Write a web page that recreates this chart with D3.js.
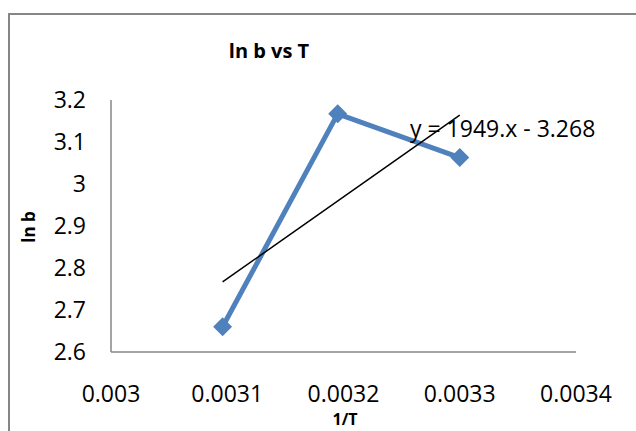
<!DOCTYPE html>
<html>
<head>
<meta charset="utf-8">
<script src="https://cdn.jsdelivr.net/npm/d3@7"></script>
<style>
  body { margin: 0; background: #fff; }
  text { font-family: "Open Sans", sans-serif; fill: #000; }
</style>
</head>
<body>
<svg id="chart" width="636" height="431"></svg>
<script>
// data
const invT = [0.003096, 0.003195, 0.0033];
const lnB = [2.66, 3.167, 3.063];
const xTicks = [0.003, 0.0031, 0.0032, 0.0033, 0.0034];
const yTicks = [2.6, 2.7, 2.8, 2.9, 3, 3.1, 3.2];
const titleText = "ln b vs T";
const equationText = "y = 1949.x - 3.268";

const svg = d3.select("#chart");

// chart area border (cropped on right / bottom)
svg.append("rect")
    .attr("x", 9).attr("y", 14)
    .attr("width", 700).attr("height", 500)
    .attr("fill", "none")
    .attr("stroke", "#868686")
    .attr("stroke-width", 2);

const x = d3.scaleLinear().domain([0.003, 0.0034]).range([111, 576]);
const y = d3.scaleLinear().domain([2.6, 3.2]).range([352, 100]);

// axes
svg.append("line")
    .attr("x1", x(0.003)).attr("x2", x(0.0034))
    .attr("y1", y(2.6)).attr("y2", y(2.6))
    .attr("stroke", "#868686").attr("stroke-width", 1.5);
svg.append("line")
    .attr("x1", x(0.003)).attr("x2", x(0.003))
    .attr("y1", y(2.6)).attr("y2", y(3.2))
    .attr("stroke", "#868686").attr("stroke-width", 1.5);

svg.selectAll("text.xtick")
    .data(xTicks)
    .enter().append("text")
        .attr("class", "xtick")
        .attr("x", function(d) { return x(d); })
        .attr("y", 402)
        .attr("text-anchor", "middle")
        .style("font-size", "23px")
        .text(function(d) { return String(+d.toFixed(4)); });

svg.selectAll("text.ytick")
    .data(yTicks)
    .enter().append("text")
        .attr("class", "ytick")
        .attr("x", 86)
        .attr("y", function(d) { return y(d); })
        .attr("dy", "0.35em")
        .attr("text-anchor", "end")
        .style("font-size", "23px")
        .text(function(d) { return String(+d.toFixed(1)); });

// title and axis titles
svg.append("text")
    .attr("x", 269).attr("y", 58)
    .attr("text-anchor", "middle")
    .style("font-size", "20px").style("font-weight", "bold")
    .text(titleText);

svg.append("text")
    .attr("transform", "translate(35,227) rotate(-90)")
    .attr("text-anchor", "middle")
    .style("font-size", "17px").style("font-weight", "bold")
    .text("ln b");

svg.append("text")
    .attr("x", 345).attr("y", 425)
    .attr("text-anchor", "middle")
    .style("font-size", "16px").style("font-weight", "bold")
    .text("1/T");

// series
const points = invT.map(function(v, i) { return [v, lnB[i]]; });

const line = d3.line()
    .x(function(d) { return x(d[0]); })
    .y(function(d) { return y(d[1]); });

svg.append("path")
    .datum(points)
    .attr("d", line)
    .attr("fill", "none")
    .attr("stroke", "#4F81BD")
    .attr("stroke-width", 5)
    .attr("stroke-linejoin", "round");

svg.selectAll("path.marker")
    .data(points)
    .enter().append("path")
        .attr("class", "marker")
        .attr("d", d3.symbol(d3.symbolSquare, 180))
        .attr("transform", function(d) { return "translate(" + x(d[0]) + "," + y(d[1]) + ") rotate(45)"; })
        .attr("fill", "#4F81BD");

// linear trendline (least squares)
const mx = d3.mean(invT), my = d3.mean(lnB);
const slope = d3.sum(invT, function(v, i) { return (v - mx) * (lnB[i] - my); }) /
              d3.sum(invT, function(v) { return (v - mx) * (v - mx); });
const icpt = my - slope * mx;
const xr = d3.extent(invT);

svg.append("path")
    .datum(xr.map(function(v) { return [v, icpt + slope * v]; }))
    .attr("d", line)
    .attr("fill", "none")
    .attr("stroke", "#000")
    .attr("stroke-width", 1.5);

svg.append("text")
    .attr("x", 410).attr("y", 137)
    .style("font-size", "23px")
    .text(equationText);
</script>
</body>
</html>
